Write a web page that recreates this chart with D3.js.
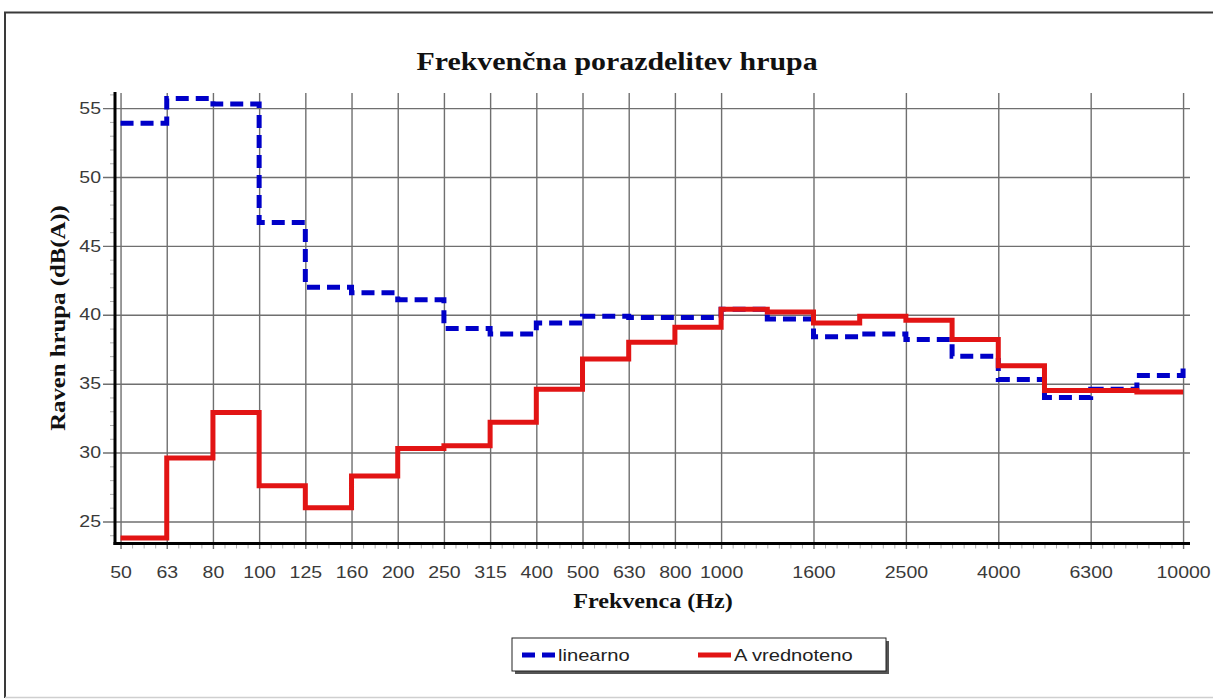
<!DOCTYPE html>
<html>
<head>
<meta charset="utf-8">
<script src="https://cdn.jsdelivr.net/npm/d3@7"></script>
<style>
  body { margin: 0; background: #fff; }
  svg { display: block; }
</style>
</head>
<body>
<svg id="chart" width="1213" height="700"></svg>
<script>
// Third-octave band centre frequencies (Hz)
const bands = ["50","63","80","100","125","160","200","250","315","400","500","630",
               "800","1000","1250","1600","2000","2500","3150","4000","5000","6300","8000","10000"];
// Bands that carry a label and a grid line
const tickLabels = ["50","63","80","100","125","160","200","250","315","400","500","630",
                    "800","1000","1600","2500","4000","6300","10000"];
// Level per band, linear
const linearno = [53.9, 55.7, 55.3, 46.7, 42.0, 41.6, 41.1, 39.0, 38.6, 39.4, 39.9, 39.8,
                  39.8, 40.4, 39.7, 38.4, 38.6, 38.2, 37.0, 35.3, 34.0, 34.6, 35.6, 36.6];
// Level per band, A-weighted
const aVrednoteno = [23.8, 29.6, 32.9, 27.6, 26.0, 28.3, 30.3, 30.5, 32.2, 34.6, 36.8, 38.0,
                     39.1, 40.4, 40.2, 39.4, 39.9, 39.6, 38.2, 36.3, 34.5, 34.5, 34.4, 34.4];
const yTicks = [25, 30, 35, 40, 45, 50, 55];
const seriesNames = ["linearno", "A vrednoteno"];

const svg = d3.select("#chart");
const plot = { left: 115, right: 1190, top: 93, bottom: 543.5 };
const SANS = "'Liberation Sans', Arial, sans-serif";
const SERIF = "'Liberation Serif', 'Times New Roman', serif";
const STRETCH = 1.22;
const BLUE = "#0000c8", RED = "#e21414";

// outer frame
svg.append("line").attr("x1", 4).attr("x2", 1213).attr("y1", 12.5).attr("y2", 12.5)
  .attr("stroke", "#3a3a3a").attr("stroke-width", 2);
svg.append("line").attr("x1", 5).attr("x2", 5).attr("y1", 12).attr("y2", 698)
  .attr("stroke", "#3a3a3a").attr("stroke-width", 2);
svg.append("line").attr("x1", 5).attr("x2", 1213).attr("y1", 697.5).attr("y2", 697.5)
  .attr("stroke", "#cfcfcf").attr("stroke-width", 1.5);

const bandIndex = d => bands.indexOf(d);
const x = d3.scaleLinear().domain([-0.12, 23.15]).range([plot.left, plot.right]);
const y = d3.scaleLinear().domain([23.4, 56.1]).range([plot.bottom, plot.top]);

// minor ticks
const yMinor = d3.range(24, 57).filter(v => v % 5 !== 0);
svg.append("g").attr("transform", `translate(${plot.left},0)`)
  .call(d3.axisLeft(y).tickValues(yMinor).tickSize(5).tickFormat(""))
  .call(g => g.select(".domain").remove())
  .call(g => g.selectAll("line").attr("stroke", "#b0b0b0").attr("stroke-width", 1));
const xMinor = d3.range(0, 23.01, 0.25).filter(v => !tickLabels.includes(bands[v]));
svg.append("g").attr("transform", `translate(0,${plot.bottom})`)
  .call(d3.axisBottom(x).tickValues(xMinor).tickSize(5).tickFormat(""))
  .call(g => g.select(".domain").remove())
  .call(g => g.selectAll("line").attr("stroke", "#b0b0b0").attr("stroke-width", 1));

// horizontal grid (including the tick stubs left of the axis)
svg.append("g").attr("transform", "translate(103,0)")
  .call(d3.axisRight(y).tickValues(yTicks).tickSize(plot.right - 103).tickFormat(""))
  .call(g => g.select(".domain").remove())
  .call(g => g.selectAll("line").attr("stroke", "#6f6f6f").attr("stroke-width", 1.4));

// vertical grid
svg.append("g").attr("transform", "translate(0,549)")
  .call(d3.axisTop(x).tickValues(tickLabels.map(bandIndex)).tickSize(549 - plot.top).tickFormat(""))
  .call(g => g.select(".domain").remove())
  .call(g => g.selectAll("line").attr("stroke", "#6f6f6f").attr("stroke-width", 1.4));

// y tick labels
svg.append("g").attr("transform", `translate(${plot.left},0)`)
  .call(d3.axisLeft(y).tickValues(yTicks).tickSize(0).tickPadding(0))
  .call(g => g.select(".domain").remove())
  .call(g => g.selectAll("text")
    .attr("x", 0).attr("dy", "0.32em")
    .attr("transform", `translate(-14,0) scale(${STRETCH},1)`)
    .attr("font-family", SANS).attr("font-size", 16).attr("fill", "#3a3a3a"));

// x tick labels (stretched about each label's own centre)
svg.append("g").attr("transform", `translate(0,${plot.bottom})`)
  .call(d3.axisBottom(x).tickValues(tickLabels.map(bandIndex))
    .tickFormat(i => bands[i]).tickSize(0).tickPadding(0))
  .call(g => g.select(".domain").remove())
  .call(g => g.selectAll("text")
    .attr("y", 34.5).attr("dy", 0)
    .attr("transform", `scale(${STRETCH},1)`)
    .attr("font-family", SANS).attr("font-size", 16).attr("fill", "#3a3a3a"));

// axis lines
svg.append("line").attr("x1", plot.left).attr("x2", plot.left)
  .attr("y1", 92).attr("y2", plot.bottom + 1.5)
  .attr("stroke", "#000").attr("stroke-width", 3);
svg.append("line").attr("x1", plot.left - 1.5).attr("x2", plot.right)
  .attr("y1", plot.bottom).attr("y2", plot.bottom)
  .attr("stroke", "#000").attr("stroke-width", 3);

// series: linear (dashed) under A-weighted (solid)
const line = d3.line().x((d, i) => x(i)).y(d => y(d)).curve(d3.curveStepAfter);
svg.append("path").datum(linearno).attr("d", line)
  .attr("fill", "none").attr("stroke", BLUE).attr("stroke-width", 5)
  .attr("stroke-dasharray", "13,7");
svg.append("path").datum(aVrednoteno).attr("d", line)
  .attr("fill", "none").attr("stroke", RED).attr("stroke-width", 5);

// titles
svg.append("text").attr("x", 0).attr("y", 0)
  .attr("transform", "translate(617,70) scale(1.15,1)")
  .attr("text-anchor", "middle").attr("font-family", SERIF).attr("font-weight", "bold")
  .attr("font-size", 26).attr("fill", "#111")
  .text("Frekvenčna porazdelitev hrupa");
svg.append("text").attr("x", 0).attr("y", 0)
  .attr("transform", "translate(653,608) scale(1.15,1)")
  .attr("text-anchor", "middle").attr("font-family", SERIF).attr("font-weight", "bold")
  .attr("font-size", 21).attr("fill", "#111")
  .text("Frekvenca (Hz)");
svg.append("text").attr("x", 0).attr("y", 0)
  .attr("transform", "translate(65,318) rotate(-90) scale(1.18,1)")
  .attr("text-anchor", "middle").attr("font-family", SERIF).attr("font-weight", "bold")
  .attr("font-size", 21).attr("fill", "#111")
  .text("Raven hrupa (dB(A))");

// legend with drop shadow
const lg = svg.append("g").attr("transform", "translate(512,638)");
lg.append("rect").attr("x", 3).attr("y", 3).attr("width", 374).attr("height", 33).attr("fill", "#555");
lg.append("rect").attr("x", 0).attr("y", 0).attr("width", 374).attr("height", 33)
  .attr("fill", "#fff").attr("stroke", "#222").attr("stroke-width", 1);
const legendItems = [
  { name: seriesNames[0], color: BLUE, dash: "13,7", sx: 10, tx: 46 },
  { name: seriesNames[1], color: RED, dash: null, sx: 186, tx: 222 }
];
legendItems.forEach(it => {
  lg.append("line").attr("x1", it.sx).attr("x2", it.sx + 33).attr("y1", 17).attr("y2", 17)
    .attr("stroke", it.color).attr("stroke-width", 5)
    .attr("stroke-dasharray", it.dash);
  lg.append("text").attr("x", 0).attr("y", 0)
    .attr("transform", `translate(${it.tx},23) scale(1.26,1)`)
    .attr("font-family", SANS).attr("font-size", 16).attr("fill", "#222")
    .text(it.name);
});
</script>
</body>
</html>
